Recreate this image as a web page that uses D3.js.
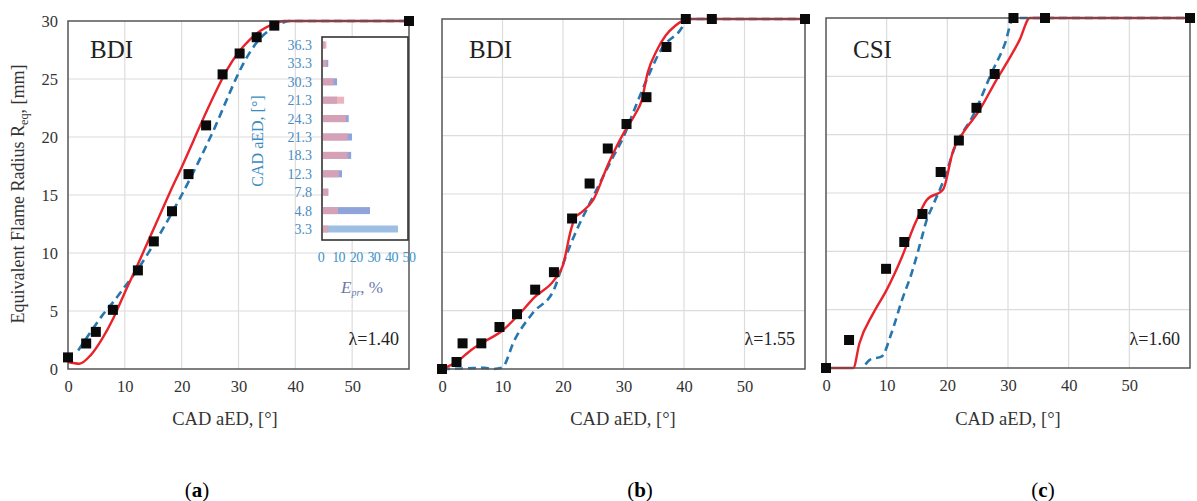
<!DOCTYPE html>
<html>
<head>
<meta charset="utf-8">
<script src="https://cdn.jsdelivr.net/npm/d3@7"></script>
<style>
  body { margin: 0; background: #fff; }
  svg { display: block; }
  text { font-family: "Liberation Serif", "DejaVu Serif", serif; }
</style>
</head>
<body>
<svg id="chart" width="1197" height="501"></svg>
<script>
// ---- data ----
const xTicks = [0, 10, 20, 30, 40, 50];
const yTicks = [0, 5, 10, 15, 20, 25, 30];

// panel (a) BDI, lambda 1.40
const expA = [[0, 1.0], [3.2, 2.2], [4.9, 3.2], [7.9, 5.1], [12.3, 8.5], [15.1, 11.0], [18.3, 13.6],
  [21.2, 16.8], [24.3, 21.0], [27.2, 25.4], [30.2, 27.2], [33.2, 28.6], [36.3, 29.6], [60, 30]];
const redA = [[0, 0.6], [2, 0.45], [4, 1.2], [6, 2.6], [8, 4.4], [10, 6.6], [12, 8.7], [14, 10.9],
  [16, 13.1], [18, 15.3], [20, 17.4], [22, 19.6], [24, 21.8], [26, 23.9], [28, 25.8], [30, 27.3],
  [32, 28.4], [34, 29.2], [36, 29.7], [38, 30], [60, 30]];
const blueA = [[1.8, 1.6], [4, 3.2], [6, 4.6], [8, 5.8], [10, 7.1], [12, 8.4], [14, 9.9], [16, 11.5],
  [18, 13.2], [20, 15.0], [22, 16.9], [24, 18.9], [26, 21.0], [28, 23.3], [30, 25.5], [32, 27.3],
  [34, 28.6], [36, 29.4], [38, 29.9], [39, 30], [60, 30]];

// panel (b) BDI, lambda 1.55
const expB = [[0, 0], [2.4, 0.6], [3.4, 2.2], [6.5, 2.2], [9.5, 3.6], [12.4, 4.7], [15.4, 6.8],
  [18.5, 8.3], [21.5, 12.9], [24.4, 15.9], [27.4, 18.9], [30.5, 21.0], [33.8, 23.3], [37.1, 27.6],
  [40.3, 30], [44.6, 30], [60, 30]];
const redB = [[0, 0], [2.4, 0.6], [5, 1.7], [6.5, 2.2], [10, 3.3], [12.4, 4.5], [15.4, 6.2], [18.5, 7.6],
  [20, 8.9], [21.3, 11.9], [22, 13.0], [23, 13.4], [25, 14.5], [27.5, 17.6], [30, 20.2], [32, 21.9],
  [33, 23.0], [34, 25.4], [35.5, 27.3], [37, 28.6], [38.5, 29.4], [40, 29.9], [41, 30], [60, 30]];
const blueB = [[0, 0], [4, 0.05], [7, 0.1], [8.5, 0], [9.9, 0.1], [12, 2.5], [15, 4.8], [18.5, 6.8],
  [20, 9.0], [22, 11.6], [25, 14.8], [28, 17.9], [30, 19.9], [32, 22.5], [34, 25.0], [36.5, 27.6],
  [39, 28.8], [41, 30], [60, 30]];

// panel (c) CSI, lambda 1.60
const expC = [[0, 0], [3.8, 2.4], [9.9, 8.5], [12.9, 10.8], [15.9, 13.2], [18.9, 16.8], [21.9, 19.5],
  [24.8, 22.3], [27.8, 25.2], [30.9, 30], [36.1, 30], [60, 30]];
const redC = [[0, 0], [4.5, 0], [5.5, 2.1], [7.8, 4.7], [10, 6.7], [12.5, 9.5], [14.7, 12.4],
  [16.6, 14.4], [19.3, 15.3], [21, 18.7], [22.4, 20.0], [25.3, 22.1], [28.1, 24.7], [30.3, 26.6],
  [31.9, 28.1], [33.6, 30], [60, 30]];
const blueC = [[6.5, 0.3], [7.2, 0.7], [9.2, 1.0], [10.8, 3.0], [12.5, 5.8], [14.1, 8.1], [15.7, 11.0],
  [16.6, 12.7], [17.5, 13.8], [19.4, 16.1], [21.3, 19.0], [24.3, 21.7], [27.3, 25.3], [29.5, 27.8],
  [30.9, 30], [60, 30]];

// inset of panel (a): error per crank angle
const insetLabels = ["36.3", "33.3", "30.3", "21.3", "24.3", "21.3", "18.3", "12.3", "7.8", "4.8", "3.3"];
const insetRed = [2, 2, 6, 12, 13, 14, 14, 9, 3, 8.5, 3];
const insetBlue = [1, 3, 8, 8, 14.6, 16.5, 16, 10.8, 3, 26.7, 42.6];
const insetTicks = [0, 10, 20, 30, 40, 50];

const panels = [
  { name: "BDI", lam: "λ=1.40", tag: "a", box: [68, 409, 21, 369], exp: expA, red: redA, blue: blueA, yLabels: true, titleX: 225 },
  { name: "BDI", lam: "λ=1.55", tag: "b", box: [442, 805, 19, 369], exp: expB, red: redB, blue: blueB, yLabels: false, titleX: 623 },
  { name: "CSI", lam: "λ=1.60", tag: "c", box: [826, 1190, 18, 368], exp: expC, red: redC, blue: blueC, yLabels: false, titleX: 1008 }
];
const tagX = [197, 640, 1043];

const svg = d3.select("#chart");
const RED = "#e8232b";
const BLUE = "#2676b0";

panels.forEach((p, i) => {
  const [x0, x1, y0, y1] = p.box;
  const x = d3.scaleLinear().domain([0, 60]).range([x0, x1]);
  const y = d3.scaleLinear().domain([0, 30]).range([y1, y0]);
  const g = svg.append("g");

  // grid
  g.selectAll(".vg").data(xTicks.slice(1)).enter().append("line")
    .attr("x1", d => x(d)).attr("x2", d => x(d)).attr("y1", y0).attr("y2", y1)
    .attr("stroke", "#dcdcdc").attr("stroke-width", 1.2);
  g.selectAll(".hg").data(yTicks.slice(1, -1)).enter().append("line")
    .attr("x1", x0).attr("x2", x1).attr("y1", d => y(d)).attr("y2", d => y(d))
    .attr("stroke", "#dcdcdc").attr("stroke-width", 1.2);

  // x axis labels
  const xa = g.append("g").attr("transform", `translate(0,${y1 + 5})`)
    .call(d3.axisBottom(x).tickValues(xTicks).tickSize(0).tickPadding(6));
  xa.select(".domain").remove();
  xa.selectAll("text").attr("font-size", 16.5).attr("fill", "#333")
    .attr("font-family", "Liberation Serif, serif");

  if (p.yLabels) {
    const ya = g.append("g").attr("transform", `translate(${x0 - 6},0)`)
      .call(d3.axisLeft(y).tickValues(yTicks).tickSize(0).tickPadding(4));
    ya.select(".domain").remove();
    ya.selectAll("text").attr("font-size", 16.5).attr("fill", "#333")
      .attr("font-family", "Liberation Serif, serif");
  }

  g.append("text").attr("x", p.titleX).attr("y", 425).attr("text-anchor", "middle")
    .attr("font-size", 18.5).attr("fill", "#333").text("CAD aED, [°]");

  // model curves
  const line = d3.line().x(d => x(d[0])).y(d => y(d[1])).curve(d3.curveMonotoneX);
  g.append("path").datum(p.blue).attr("d", line).attr("fill", "none")
    .attr("stroke", BLUE).attr("stroke-width", 2.6).attr("stroke-dasharray", "8,5");
  g.append("path").datum(p.red).attr("d", line).attr("fill", "none")
    .attr("stroke", RED).attr("stroke-width", 2.4);

  // plot frame
  g.append("rect").attr("x", x0).attr("y", y0).attr("width", x1 - x0).attr("height", y1 - y0)
    .attr("fill", "none").attr("stroke", "#555").attr("stroke-width", 1.5);

  // experimental points
  g.selectAll(".pt").data(p.exp).enter().append("rect")
    .attr("x", d => x(d[0]) - 5).attr("y", d => y(d[1]) - 5)
    .attr("width", 10).attr("height", 10).attr("fill", "#0a0a0a");

  g.append("text").attr("x", x0 + (i === 0 ? 22 : 27)).attr("y", 58)
    .attr("font-size", 25).attr("fill", "#222").text(p.name);
  g.append("text").attr("x", x1 - 10).attr("y", 345).attr("text-anchor", "end")
    .attr("font-size", 18).attr("fill", "#222").text(p.lam);

  const t = svg.append("text").attr("x", tagX[i]).attr("y", 497).attr("text-anchor", "middle")
    .attr("font-size", 21).attr("fill", "#000");
  t.append("tspan").text("(");
  t.append("tspan").attr("font-weight", "bold").text(p.tag);
  t.append("tspan").text(")");
});

// y axis title
svg.append("text").attr("transform", "translate(24,194) rotate(-90)").attr("text-anchor", "middle")
  .attr("font-size", 18).attr("fill", "#333")
  .call(s => {
    s.append("tspan").text("Equivalent Flame Radius R");
    s.append("tspan").attr("font-size", 12).attr("dy", 4).text("eq");
    s.append("tspan").attr("dy", -4).text(", [mm]");
  });

// ---- inset in panel (a) ----
const ix = d3.scaleLinear().domain([0, 50]).range([321, 409]);
const iy = d3.scalePoint().domain(d3.range(insetLabels.length)).range([45, 229]);
const ig = svg.append("g");
ig.append("rect").attr("x", 322).attr("y", 37).attr("width", 86).attr("height", 203)
  .attr("fill", "#fff");
ig.selectAll(".bb").data(insetBlue).enter().append("rect")
  .attr("x", ix(0) + 2).attr("y", (d, i) => iy(i) - 3.5)
  .attr("width", d => ix(d) - ix(0)).attr("height", 7)
  .attr("fill", (d, i) => i === insetBlue.length - 1 ? "#9dbfe3" : "#8ea4da");
ig.selectAll(".rb").data(insetRed).enter().append("rect")
  .attr("x", ix(0) + 2).attr("y", (d, i) => iy(i) - 3.5)
  .attr("width", d => ix(d) - ix(0)).attr("height", 7)
  .attr("fill", "#e9a0ad").attr("opacity", 0.8);
ig.append("rect").attr("x", 322).attr("y", 37).attr("width", 86).attr("height", 203)
  .attr("fill", "none").attr("stroke", "#333").attr("stroke-width", 1.6);
ig.selectAll(".il").data(insetLabels).enter().append("text")
  .attr("x", 312).attr("y", (d, i) => iy(i) + 5).attr("text-anchor", "end")
  .attr("font-size", 14).attr("fill", "#4a8cc2").text(d => d);
ig.selectAll(".it").data(insetTicks).enter().append("text")
  .attr("x", d => ix(d)).attr("y", 262).attr("text-anchor", "middle")
  .attr("font-size", 14).attr("letter-spacing", -0.6).attr("fill", "#3f93c9").text(d => d);
ig.append("text").attr("transform", "translate(263,141) rotate(-90)").attr("text-anchor", "middle")
  .attr("font-size", 16).attr("fill", "#3b8cc0").text("CAD aED, [°]");
ig.append("text").attr("x", 362).attr("y", 293).attr("text-anchor", "middle")
  .attr("font-size", 17).attr("fill", "#6a7aa8")
  .call(s => {
    s.append("tspan").attr("font-style", "italic").text("E");
    s.append("tspan").attr("font-style", "italic").attr("font-size", 10).attr("dy", 3).text("pr");
    s.append("tspan").attr("dy", -3).text(", %");
  });
</script>
</body>
</html>
